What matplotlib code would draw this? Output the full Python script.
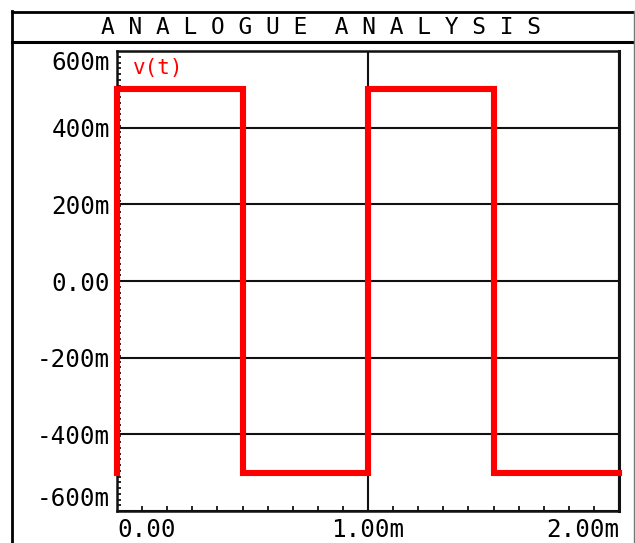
import matplotlib.pyplot as plt
from matplotlib.lines import Line2D
from matplotlib.ticker import MultipleLocator

# v(t) square wave: time in ms, voltage in V
time_ms = [0.0, 0.0, 0.5, 0.5, 1.0, 1.0, 1.5, 1.5, 2.0]
volts = [-0.5, 0.5, 0.5, -0.5, -0.5, 0.5, 0.5, -0.5, -0.5]

y_ticks = [-0.6, -0.4, -0.2, 0.0, 0.2, 0.4, 0.6]
y_labels = ["-600m", "-400m", "-200m", "0.00", "200m", "400m", "600m"]
x_ticks = [0.0, 1.0, 2.0]
x_labels = ["0.00", "1.00m", "2.00m"]

title = "ANALOGUE ANALYSIS"
trace_name = "v(t)"

plt.rcParams['font.family'] = ['DejaVu Sans Mono', 'DejaVu Sans']

W, H = 635, 543
fig = plt.figure(figsize=(W / 100, H / 100), dpi=100)
ax = fig.add_axes([117 / W, 1 - 511 / H, (619 - 117) / W, (511 - 51) / H])


def fx(px):
    return px / W


def fy(py):
    return 1 - py / H


# outer frame and title bar
frame = [
    ((12, 12), (11, 543), 'black', 2.0),
    ((12, 635), (11.5, 11.5), 'black', 2.0),
    ((12, 635), (42, 42), 'black', 2.2),
    ((634, 634), (11, 543), '#777777', 1.0),
]
for xs, ys, c, lw in frame:
    fig.add_artist(Line2D([fx(v) for v in xs], [fy(v) for v in ys],
                          transform=fig.transFigure, color=c, lw=lw))

# stroke font in the original is very wide, so space the letters out
spaced_title = "  ".join(" ".join(w) for w in title.split(" "))
fig.text(fx(321), fy(27.5), spaced_title, ha='center', va='center',
         fontsize=16.5, color='black')

ax.plot(time_ms, volts, color='#ff0000', lw=4.4, clip_on=False,
        solid_joinstyle='miter', zorder=5)

ax.set_xlim(0, 2.0)
ax.set_ylim(-0.6, 0.6)
ax.set_xticks(x_ticks, x_labels)
ax.set_yticks(y_ticks, y_labels)
ax.xaxis.set_minor_locator(MultipleLocator(0.1))
ax.yaxis.set_minor_locator(MultipleLocator(0.015))
ax.tick_params(which='major', length=0, labelsize=17.5, colors='black')
ax.tick_params(axis='x', which='major', pad=5)
ax.tick_params(axis='y', which='major', pad=5)
ax.tick_params(which='minor', direction='in', length=3, width=1.2, color='black')
ax.tick_params(axis='x', which='minor', length=3.5)
ax.grid(True, which='major', color='#111111', lw=1.5)
ax.set_axisbelow(True)

for side in ['left', 'right', 'top', 'bottom']:
    ax.spines[side].set_linewidth(1.8)
    ax.spines[side].set_color('#111111')
ax.spines['right'].set_linewidth(2.2)

xl = ax.get_xticklabels()
xl[0].set_ha('left')
xl[-1].set_ha('right')
yl = ax.get_yticklabels()
yl[0].set_va('bottom')
yl[-1].set_va('top')

ax.text(0.032, 0.963, trace_name, transform=ax.transAxes, color='#ff0000',
        fontsize=15, ha='left', va='center')

fig.savefig("out.png", dpi=100)
